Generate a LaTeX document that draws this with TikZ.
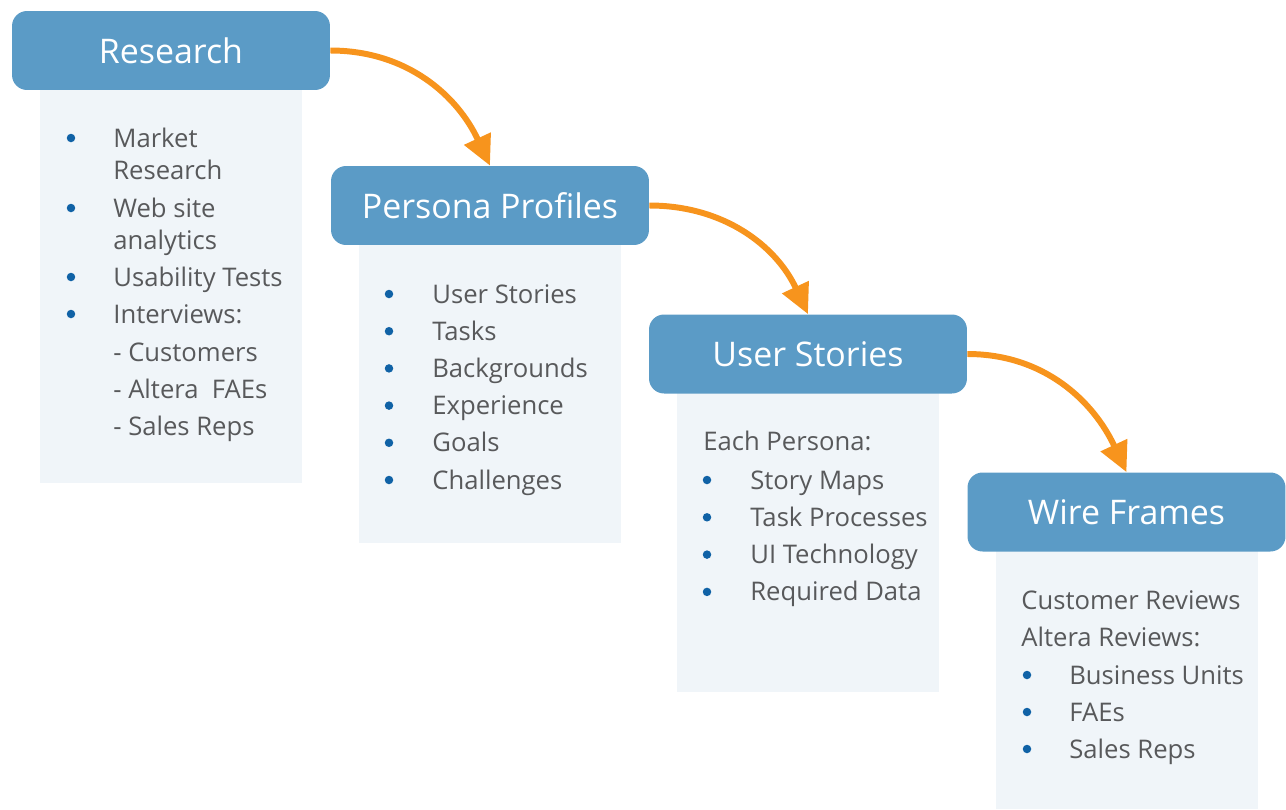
\documentclass[tikz,border=0pt]{standalone}
\usepackage{fontspec}
\setmainfont{Open Sans}
\usetikzlibrary{arrows.meta}

\definecolor{headblue}{HTML}{5B9BC6}
\definecolor{panelgray}{HTML}{F0F5F9}
\definecolor{dotblue}{HTML}{1062A6}
\definecolor{textgray}{HTML}{58595B}
\definecolor{floworange}{HTML}{F7941D}

\tikzset{
  header/.style={rounded corners=0.3cm, fill=headblue, text=white,
    minimum width=6.36cm, minimum height=1.58cm,
    font=\fontsize{19.3}{23}\selectfont},
  panel/.style={fill=panelgray, minimum width=5.24cm, anchor=north west, inner sep=0},
  item/.style={anchor=base west, text=textgray, inner sep=0,
    font=\fontsize{14.6}{17}\selectfont},
  dot/.style={circle, fill=dotblue, inner sep=0, minimum size=0.17cm},
  flow/.style={draw=floworange, line width=3.4pt,
    -{Triangle[length=17pt,width=16pt]}},
}

\begin{document}
\begin{tikzpicture}[x=0.02cm,y=-0.02cm]

        \useasboundingbox (0,0) rectangle (1286,809);

        % panels behind the headers
        \node[panel, minimum height=7.88cm] (researchpanel) at (40,89)  {};
        \node[panel, minimum height=5.96cm] (personapanel)  at (359,245) {};
        \node[panel, minimum height=5.98cm] (storiespanel)  at (677,393) {};
        \node[panel, minimum height=5.16cm] (wirepanel)     at (996,551) {};

        \begin{scope}[every node/.style={header}]
          \node (research) at (171,50.5)   {Research};
          \node (persona)  at (490,205.5)  {Persona Profiles};
          \node (stories)  at (808,354)    {User Stories};
          \node (wire)     at (1126.5,512) {Wire Frames};
        \end{scope}

        % research panel
        \node[dot]  (r1) at (71,138) {};
        \node[item] (r1a) at (113,147) {Market};
        \node[item] (r1b) at (113,179) {Research};
        \node[dot]  (r2) at (71,208) {};
        \node[item] (r2a) at (113,217) {Web site};
        \node[item] (r2b) at (113,249) {analytics};
        \node[dot]  (r3) at (71,277) {};
        \node[item] (r3a) at (113,286) {Usability Tests};
        \node[dot]  (r4) at (71,314) {};
        \node[item] (r4a) at (113,323) {Interviews:};
        \node[item] (r5) at (113,361) {- Customers};
        \node[item] (r6) at (113,398) {- Altera\ \ FAEs};
        \node[item] (r7) at (113,435) {- Sales Reps};

        % persona panel
        \foreach \t [count=\i] in {User Stories,Tasks,Backgrounds,Experience,Goals,Challenges}{
          \node[dot]  (pd\i) at (389,{294+37.2*(\i-1)}) {};
          \node[item] (pt\i) at (432,{303+37.2*(\i-1)}) {\t};
        }

        % user stories panel
        \node[item] (s0) at (703,450) {Each Persona:};
        \foreach \t [count=\i] in {Story Maps,Task Processes,UI Technology,Required Data}{
          \node[dot]  (sd\i) at (707,{480+37.3*(\i-1)}) {};
          \node[item] (st\i) at (750,{489+37.3*(\i-1)}) {\t};
        }

        % wire frames panel
        \node[item] (w0) at (1021,609) {Customer Reviews};
        \node[item] (w1) at (1021,646) {Altera Reviews:};
        \foreach \t [count=\i] in {Business Units,FAEs,Sales Reps}{
          \node[dot]  (wd\i) at (1027,{675+37*(\i-1)}) {};
          \node[item] (wt\i) at (1069,{684+37*(\i-1)}) {\t};
        }

        % flow arrows
        \draw[flow] (research.east) to[out=0,in=115] (persona.north);
        \draw[flow] (persona.east)  to[out=0,in=115] (stories.north);
        \draw[flow] (stories.east)  to[out=0,in=115] (wire.north);

      \end{tikzpicture}
\end{document}
